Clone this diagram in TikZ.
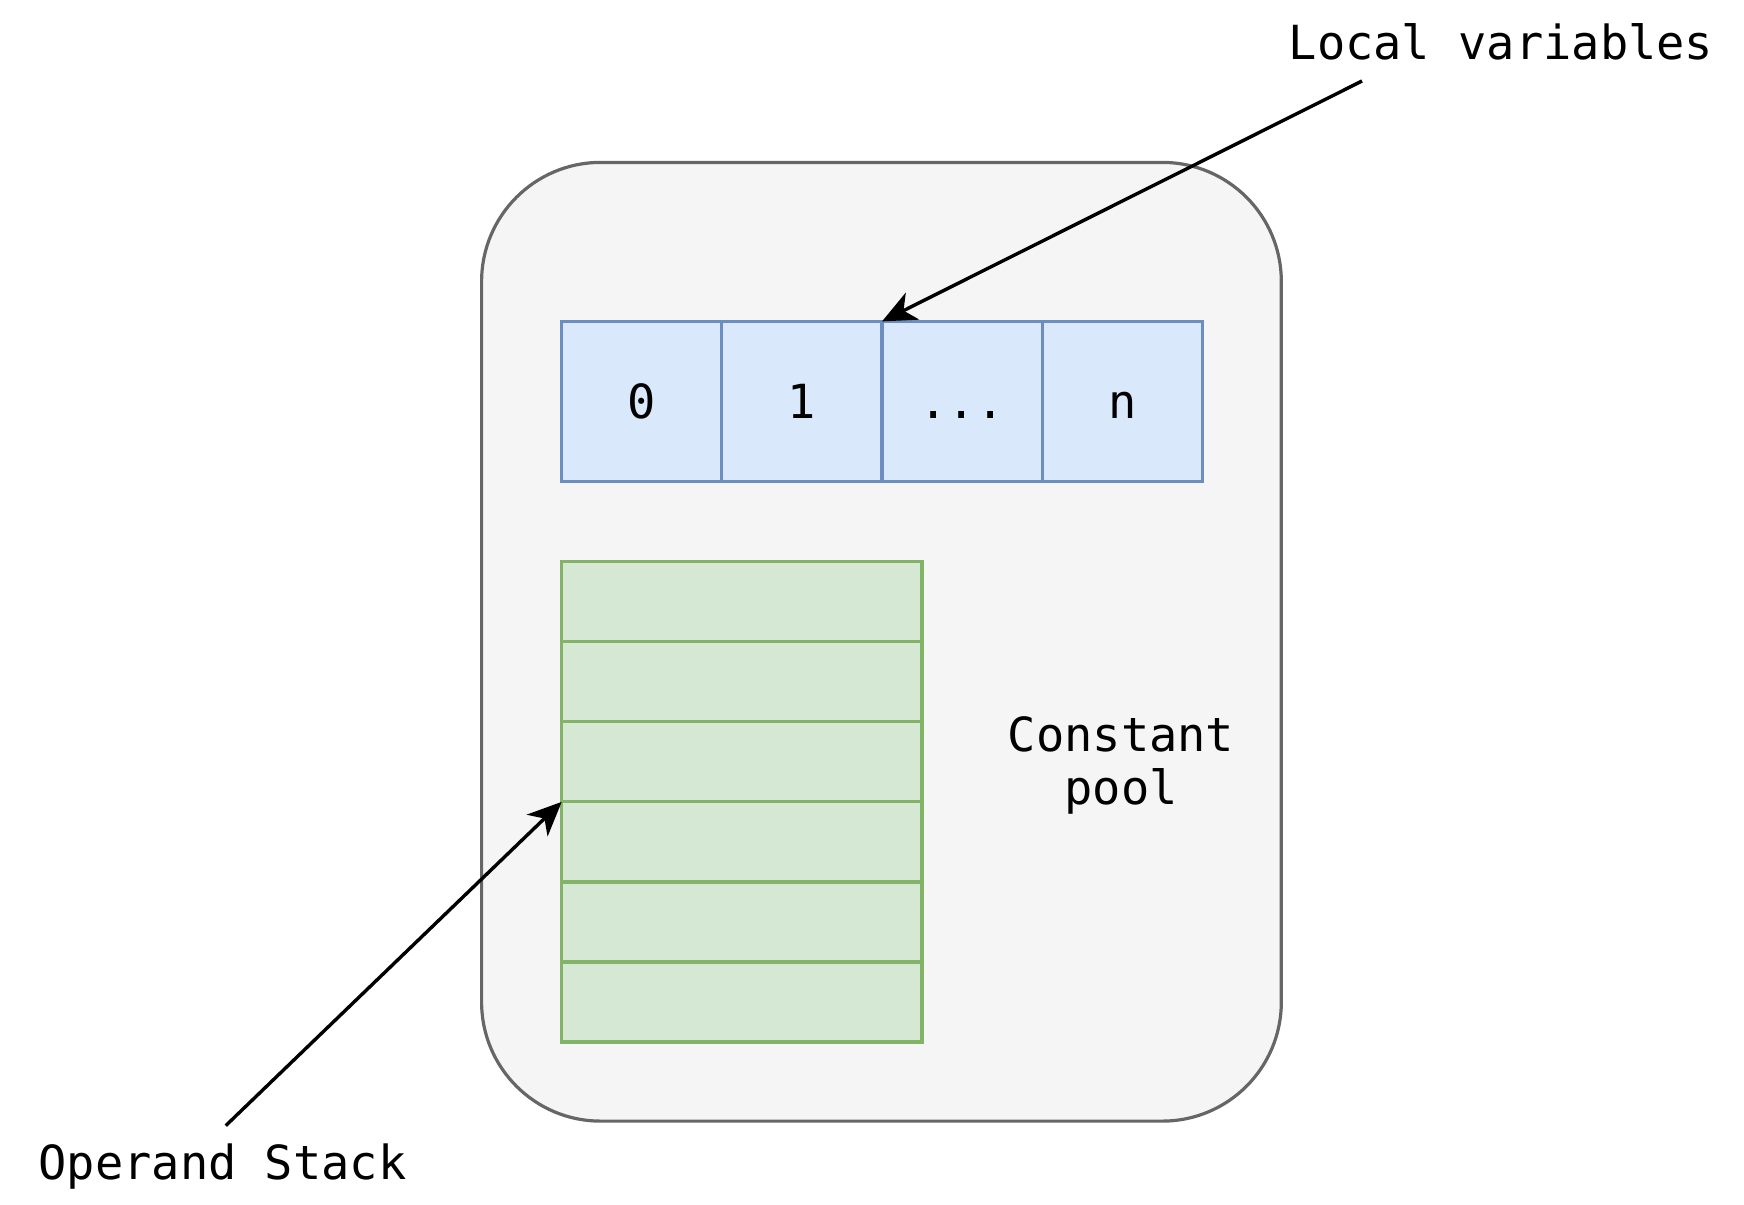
\documentclass[tikz,border=0pt]{standalone}
\usepackage{fontspec}
\setmonofont{DejaVu Sans Mono}
\usetikzlibrary{arrows.meta}
\definecolor{outerfill}{HTML}{F5F5F5}
\definecolor{outerline}{HTML}{666666}
\definecolor{bluefill}{HTML}{DAE8FC}
\definecolor{blueline}{HTML}{6C8EBF}
\definecolor{greenfill}{HTML}{D5E8D4}
\definecolor{greenline}{HTML}{82B366}
\tikzset{
  txt/.style={font=\ttfamily\fontsize{47}{53}\selectfont, text=black, align=center, inner sep=0},
  bluecell/.style={draw=blueline, fill=bluefill, line width=3.2pt, minimum width=160.15pt, minimum height=160.2pt, inner sep=0, outer sep=0, txt},
  greencell/.style={draw=greenline, fill=greenfill, line width=3.2pt, minimum width=360.3pt, minimum height=80.07pt, inner sep=0, outer sep=0},
  frame/.style={draw=outerline, fill=outerfill, line width=3.2pt, rounded corners=119pt},
  ptr/.style={line width=3.4pt, -{Stealth[length=34pt, width=30pt, inset=10pt]}}
}
\begin{document}
\begin{tikzpicture}[x=1pt, y=-1pt]
\useasboundingbox (0,0) rectangle (1744,1204);
\draw[frame] (481.6,162.4) rectangle (1281.3,1121.1);
% local variables cells
\node[bluecell] (b1) at (641.8,401.5) {\vphantom{0}0};
\node[bluecell] (b2) at (801.95,401.5) {\vphantom{0}1};
\node[bluecell] (b3) at (962.1,401.5) {\vphantom{0}{.}{.}{.}};
\node[bluecell] (b4) at (1122.25,401.5) {\vphantom{0}n};
% operand stack cells
\node[greencell] (g1) at (741.85,601.75) {};
\node[greencell] (g2) at (741.85,681.8) {};
\node[greencell] (g3) at (741.85,761.85) {};
\node[greencell] (g4) at (741.85,841.9) {};
\node[greencell] (g5) at (741.85,921.95) {};
\node[greencell] (g6) at (741.85,1002.0) {};
% labels
\node[txt] (cp) at (1121,765) {Constant\\pool};
\node[txt, anchor=base] (lv) at (1501,60) {Local variables};
\node[txt, anchor=base] (os) at (222.5,1179) {Operand Stack};
\coordinate (lvs) at (1362,81);
\coordinate (oss) at (225.8,1125.6);
\draw[ptr] (lvs) -- (b3.north west);
\draw[ptr] (oss) -- (g4.north west);
\end{tikzpicture}
\end{document}
